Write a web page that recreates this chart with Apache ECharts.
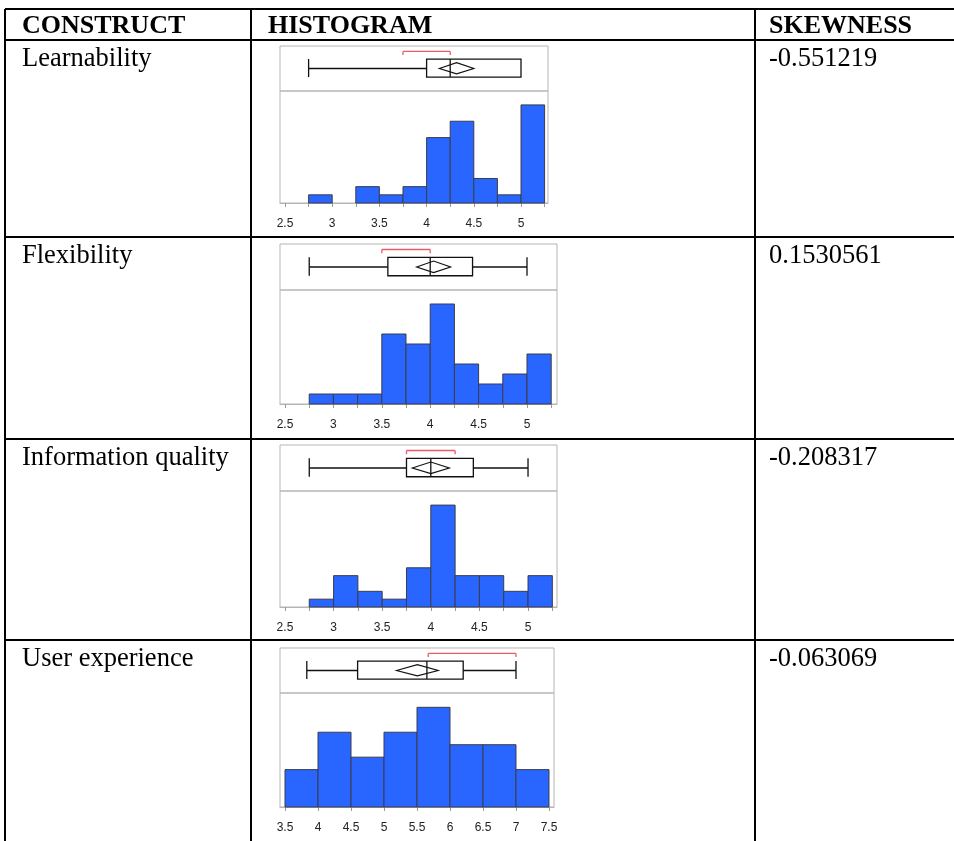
<!DOCTYPE html>
<html>
<head>
<meta charset="utf-8">
<script src="https://cdn.jsdelivr.net/npm/echarts@6/dist/echarts.min.js"></script>
<style>
  html, body { margin: 0; padding: 0; background: #fff; }
  #chart { width: 954px; height: 841px; }
</style>
</head>
<body>
<div id="chart"></div>
<script>
// ---- table text ----
const headers = ['CONSTRUCT', 'HISTOGRAM', 'SKEWNESS'];
const constructs = ['Learnability', 'Flexibility', 'Information quality', 'User experience'];
const skewness = ['-0.551219', '0.1530561', '-0.208317', '-0.063069'];

// ---- histogram bins (edges) and counts ----
const edges5 = [2.75, 3, 3.25, 3.5, 3.75, 4, 4.25, 4.5, 4.75, 5, 5.25];
const uxEdges = [3.5, 4, 4.5, 5, 5.5, 6, 6.5, 7, 7.5];
const learnCounts = [1, 0, 2, 1, 2, 8, 10, 3, 1, 12];
const flexCounts = [1, 1, 1, 7, 6, 10, 4, 2, 3, 5];
const infoCounts = [1, 4, 2, 1, 5, 13, 4, 4, 2, 4];
const uxCounts = [3, 6, 4, 6, 8, 5, 5, 3];

// ---- box plot summaries: min, q1, median, q3, max ----
const learnBox = [2.75, 4.0, 4.25, 5.0, 5.0];
const flexBox = [2.75, 3.5625, 4.0, 4.4375, 5.0];
const infoBox = [2.75, 3.75, 4.0, 4.4375, 5.0];
const uxBox = [3.83, 4.6, 5.65, 6.2, 7.0];
// mean diamond (95% CI) and shortest half
const learnMean = [4.135, 4.5], flexMean = [3.86, 4.21], infoMean = [3.81, 4.19], uxMean = [5.19, 5.82];
const learnShort = [3.75, 4.25], flexShort = [3.5, 4.0], infoShort = [3.75, 4.25], uxShort = [5.67, 7.0];

// ---- axes ----
const ticks5 = [2.5, 2.75, 3, 3.25, 3.5, 3.75, 4, 4.25, 4.5, 4.75, 5, 5.25];
const labels5 = [2.5, 3, 3.5, 4, 4.5, 5];
const uxTicks = [3.5, 4, 4.5, 5, 5.5, 6, 6.5, 7, 7.5];
const xRanges = [[2.447, 5.286], [2.448, 5.31], [2.449, 5.298], [3.424, 7.576]];
const yMaxes = [13.7, 11.4, 14.8, 9.15];

const panels = [
  { edges: edges5, counts: learnCounts, box: learnBox, mean: learnMean, short: learnShort, ticks: ticks5, labels: labels5,
    top: 46, boxH: 45, histH: 112, width: 268 },
  { edges: edges5, counts: flexCounts, box: flexBox, mean: flexMean, short: flexShort, ticks: ticks5, labels: labels5,
    top: 244, boxH: 46, histH: 114, width: 277 },
  { edges: edges5, counts: infoCounts, box: infoBox, mean: infoMean, short: infoShort, ticks: ticks5, labels: labels5,
    top: 445, boxH: 46, histH: 116, width: 277 },
  { edges: uxEdges, counts: uxCounts, box: uxBox, mean: uxMean, short: uxShort, ticks: uxTicks, labels: uxTicks,
    top: 648, boxH: 45, histH: 114, width: 274 }
];

const FRAME = '#b5b5b5';
const BLUE = '#2966ff';
const RED = '#ec5a68';
const grid = [], xAxis = [], yAxis = [], series = [];

panels.forEach((p, i) => {
  const [xmin, xmax] = xRanges[i];
  // box plot grid
  grid.push({ left: 280, top: p.top, width: p.width, height: p.boxH, show: true, borderColor: FRAME, borderWidth: 1 });
  xAxis.push({ type: 'value', gridIndex: 2 * i, min: xmin, max: xmax, show: false });
  yAxis.push({ type: 'value', gridIndex: 2 * i, min: 0, max: 1, show: false });
  // histogram grid
  grid.push({ left: 280, top: p.top + p.boxH, width: p.width, height: p.histH, show: true, borderColor: FRAME, borderWidth: 1 });
  xAxis.push({
    type: 'value', gridIndex: 2 * i + 1, min: xmin, max: xmax,
    splitLine: { show: false },
    axisLine: { lineStyle: { color: FRAME } },
    axisTick: { customValues: p.ticks, length: 4, lineStyle: { color: '#999' } },
    axisLabel: { customValues: p.labels, margin: 15, color: '#222', fontSize: 12, fontFamily: 'Liberation Sans' }
  });
  yAxis.push({ type: 'value', gridIndex: 2 * i + 1, min: 0, max: yMaxes[i], show: false });

  // histogram bars
  const bars = p.counts.map((c, k) => [p.edges[k], p.edges[k + 1], c]);
  series.push({
    type: 'custom', xAxisIndex: 2 * i + 1, yAxisIndex: 2 * i + 1,
    data: bars, encode: { x: [0, 1], y: 2 },
    renderItem: (params, api) => {
      if (api.value(2) <= 0) return null;
      const a = api.coord([api.value(0), api.value(2)]);
      const b = api.coord([api.value(1), 0]);
      return { type: 'rect', shape: { x: a[0], y: a[1], width: b[0] - a[0], height: b[1] - a[1] },
        style: { fill: BLUE, stroke: '#3c3c4a', lineWidth: 1 } };
    }
  });

  // outlier box plot with means diamond and shortest half bracket
  series.push({
    type: 'custom', xAxisIndex: 2 * i, yAxisIndex: 2 * i,
    data: [p.box.concat(p.mean, p.short)],
    renderItem: (params, api) => {
      const v = k => api.value(k);
      const c = (x, y) => api.coord([x, y]);
      const yMid = 0.5, yLo = 0.31, yHi = 0.71;
      const ln = (x1, y1, x2, y2, color) => ({ type: 'line', shape: { x1, y1, x2, y2 },
        style: { stroke: color || '#111', lineWidth: 1.3 } });
      const kids = [];
      const wL = c(v(0), yMid), q1 = c(v(1), yLo), q3 = c(v(3), yHi), wR = c(v(4), yMid);
      const capT = c(v(0), yHi)[1], capB = c(v(0), yLo)[1];
      // whiskers
      kids.push(ln(wL[0], wL[1], q1[0], wL[1]));
      kids.push(ln(wL[0], capT, wL[0], capB));
      if (v(4) > v(3)) {
        kids.push(ln(q3[0], wR[1], wR[0], wR[1]));
        kids.push(ln(wR[0], capT, wR[0], capB));
      }
      // box
      kids.push({ type: 'rect', shape: { x: q1[0], y: q3[1], width: q3[0] - q1[0], height: q1[1] - q3[1] },
        style: { fill: 'none', stroke: '#111', lineWidth: 1.3 } });
      // median
      const md = c(v(2), 0)[0];
      kids.push(ln(md, capT, md, capB));
      // mean diamond
      const m0 = c(v(5), yMid), m1 = c(v(6), yMid);
      const mc = (m0[0] + m1[0]) / 2;
      const dT = c(0, 0.63)[1], dB = c(0, 0.38)[1];
      kids.push({ type: 'polygon', shape: { points: [[m0[0], m0[1]], [mc, dT], [m1[0], m1[1]], [mc, dB]] },
        style: { fill: 'none', stroke: '#111', lineWidth: 1.2 } });
      // shortest half bracket
      const s0 = c(v(7), 0.88), s1 = c(v(8), 0.88);
      const sd = c(0, 0.8)[1];
      kids.push(ln(s0[0], s0[1], s1[0], s1[1], RED));
      kids.push(ln(s0[0], s0[1], s0[0], sd, RED));
      kids.push(ln(s1[0], s1[1], s1[0], sd, RED));
      return { type: 'group', children: kids };
    }
  });
});

// ---- table rules and text ----
const rowTops = [40, 237, 439, 640];
const lineStyle = { stroke: '#000', lineWidth: 2 };
const graphic = [];
graphic.push({ type: 'line', shape: { x1: 5, y1: 9, x2: 954, y2: 9 }, style: lineStyle });
rowTops.forEach(y => graphic.push({ type: 'line', shape: { x1: 5, y1: y, x2: 954, y2: y }, style: lineStyle }));
[5, 251, 755].forEach(x => graphic.push({ type: 'line', shape: { x1: x, y1: 9, x2: x, y2: 841 }, style: lineStyle }));

const colX = [22, 268, 769];
headers.forEach((h, k) => graphic.push({
  type: 'text', x: colX[k], y: 26,
  style: { text: h, fill: '#000', font: 'bold 26px "Liberation Serif"', verticalAlign: 'middle' }
}));
constructs.forEach((t, k) => {
  graphic.push({ type: 'text', x: colX[0], y: rowTops[k] + 19,
    style: { text: t, fill: '#000', font: '26.5px "Liberation Serif"', verticalAlign: 'middle' } });
  graphic.push({ type: 'text', x: colX[2], y: rowTops[k] + 19,
    style: { text: skewness[k], fill: '#000', font: '26.5px "Liberation Serif"', verticalAlign: 'middle' } });
});

const chart = echarts.init(document.getElementById('chart'));
chart.setOption({
  animation: false,
  backgroundColor: '#fff',
  grid, xAxis, yAxis, series, graphic
});
</script>
</body>
</html>
